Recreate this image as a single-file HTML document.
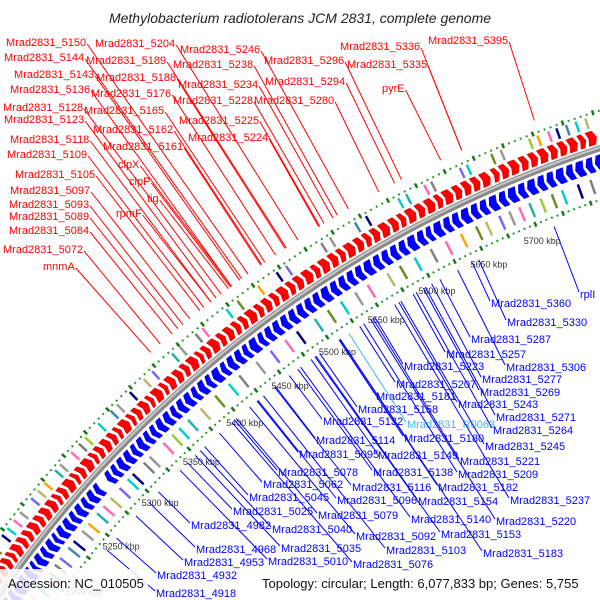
<!DOCTYPE html>
<html><head><meta charset="utf-8">
<style>
html,body{margin:0;padding:0;background:#fff;overflow:hidden;}
svg{display:block;font-family:"Liberation Sans",sans-serif;}
</style></head>
<body>
<svg id="chart" width="600" height="600" viewBox="0 0 600 600">
<text x="300" y="23" text-anchor="middle" font-size="14" font-style="italic" fill="#222">Methylobacterium radiotolerans JCM 2831, complete genome</text>
<g id="rings"></g>
<g id="labels"></g>
<rect x="0" y="569" width="148" height="31" fill="#fff" fill-opacity="0.85"/>
<text x="8" y="588" font-size="13" fill="#111">Accession: NC_010505</text>
<text x="262" y="588" font-size="13" fill="#111">Topology: circular; Length: 6,077,833 bp; Genes: 5,755</text>
</svg>
<script>
// ---- data ----
const tickKbp = [5200,5250,5300,5350,5400,5450,5500,5550,5600,5650,5700];
const fwdStart = [5150,5157,5163,5170,5178,5185,5191,5199,5206,5213,5221,5228,5236,5244,5250,5257,5266,5272,5279,5288,5294,5301,5309,5316,5322,5331,5337,5344,5352,5358,5367,5373,5381,5389,5396,5405,5411,5418,5427,5434,5442,5449,5456,5465,5472,5480,5487,5496,5503,5511,5520,5527,5536,5544,5551,5560,5568,5575,5583,5592,5600,5607,5616,5624,5633,5640,5649,5657,5665,5673,5683,5690,5698,5707,5715,5723,5732,5740,5748,5757,5764];
const fwdLen   = [6,5,6,7,6,5,7,6,6,7,6,7,7,5,6,8,5,6,8,5,6,7,6,5,8,5,6,7,5,8,5,7,7,6,8,5,6,8,6,7,6,6,8,6,7,6,8,6,7,8,6,8,7,6,8,7,6,7,8,7,6,8,7,8,6,8,7,7,7,8,6,7,8,7,7,8,7,7,8,6,8];
const revStart = [5152,5159,5166,5174,5181,5189,5195,5203,5210,5218,5224,5232,5240,5247,5255,5262,5270,5284,5291,5298,5306,5314,5321,5329,5336,5343,5351,5359,5366,5374,5382,5389,5397,5404,5413,5420,5428,5436,5443,5452,5459,5467,5475,5483,5491,5499,5507,5515,5524,5532,5540,5548,5556,5565,5573,5581,5589,5597,5606,5614,5621,5630,5638,5646,5655,5663,5671,5680,5688,5697,5705,5714,5722,5730,5739,5747,5756,5764];
const revLen   = [6,6,7,6,7,5,7,6,7,5,7,7,6,7,6,7,6,6,6,7,7,6,7,6,6,7,7,6,7,7,6,7,6,8,6,7,7,6,8,6,7,7,7,7,7,7,7,8,7,7,7,7,8,7,7,7,7,8,7,6,8,7,7,8,7,7,8,7,8,7,8,7,7,8,7,8,7,8];
const outerFeat = [5158,5163,5171,5176,5184,5196,5203,5211,5219,5233,5241,5249,5262,5268,5281,5290,5297,5312,5326,5333,5347,5362,5371,5392,5400,5416,5423,5447,5458,5478,5496,5505,5538,5546,5569,5579,5608,5615,5631,5637,5662,5668,5689,5697,5721,5728,5737,5744,5752,5760,5768];
const outerCol  = [0,1,3,9,4,5,1,2,3,0,6,7,8,3,2,9,10,1,11,3,5,6,0,8,3,9,2,1,4,7,5,0,9,3,11,5,1,8,2,9,0,1,4,3,10,7,2,5,11,1,6];
const innerFeat = [5155,5162,5170,5179,5188,5195,5203,5210,5221,5228,5239,5247,5258,5266,5275,5286,5296,5302,5315,5322,5338,5348,5356,5366,5380,5396,5411,5422,5440,5455,5470,5482,5500,5513,5526,5540,5552,5571,5583,5597,5612,5626,5640,5654,5663,5675,5684,5693,5702,5712,5722,5731,5745,5756,5766];
const innerCol  = [1,3,7,8,2,4,9,0,11,5,3,7,8,2,6,0,1,5,9,3,2,10,1,8,6,4,1,9,3,0,2,5,8,4,1,3,2,6,4,1,9,2,7,4,6,0,3,2,8,10,4,1,5,9,3];
// [label, gene position kbp, label x, label baseline y]
const redLabels = [
 ["Mrad2831_5150",5477,6,46],["Mrad2831_5144",5471,4,61],["Mrad2831_5143",5469,14,78],["Mrad2831_5136",5461,10,93],
 ["Mrad2831_5128",5451,3,111],["Mrad2831_5123",5446,4,123],["Mrad2831_5118",5441,10,143],["Mrad2831_5109",5434,7,158],
 ["Mrad2831_5105",5430,15,178],["Mrad2831_5097",5420,10,194],["Mrad2831_5093",5413,9,208],["Mrad2831_5089",5408,9,220],
 ["Mrad2831_5084",5402,9,234],["Mrad2831_5072",5390,3,253],["mnmA",5380,43,270],
 ["Mrad2831_5204",5524,95,47],["Mrad2831_5189",5513,86,64],["Mrad2831_5188",5512,96,81],["Mrad2831_5176",5503,91,97],
 ["Mrad2831_5165",5493,84,114],["Mrad2831_5162",5490,93,133],["Mrad2831_5161",5489,103,150],["clpX",5461,118,168],
 ["clpP",5460,129,185],["tig",5458,147,202],["rpmF",5441,116,217],
 ["Mrad2831_5246",5570,180,53],["Mrad2831_5238",5560,173,68],["Mrad2831_5234",5556,178,88],["Mrad2831_5228",5548,173,104],
 ["Mrad2831_5225",5544,179,124],["Mrad2831_5224",5543,188,141],["Mrad2831_5296",5617,264,64],["Mrad2831_5294",5611,265,85],
 ["Mrad2831_5280",5597,254,104],["Mrad2831_5336",5669,340,50],["Mrad2831_5335",5669,347,68],["pyrE",5651,382,92],["Mrad2831_5395",5730,428,44]
];
const blueLabels = [
 ["Mrad2831_5360",5638,491,307],["Mrad2831_5330",5644,507,326],["rplI",5714,580,298],["Mrad2831_5287",5607,471,343],
 ["Mrad2831_5257",5581,446,358],["Mrad2831_5306",5624,506,371],["Mrad2831_5223",5543,404,370],["Mrad2831_5277",5599,482,383],
 ["Mrad2831_5207",5528,396,388],["Mrad2831_5181",5507,376,400],["Mrad2831_5269",5591,480,396],["Mrad2831_5243",5567,458,408],
 ["Mrad2831_5158",5487,358,413],["Mrad2831_5271",5593,496,421],["Mrad2831_5132",5455,323,425],["Mrad2831_R0063",5517,407,428],
 ["Mrad2831_5264",5584,493,434],["Mrad2831_5114",5440,316,444],["Mrad2831_5180",5507,404,442],["Mrad2831_5245",5569,485,450],
 ["Mrad2831_5095",5420,299,458],["Mrad2831_5149",5478,378,459],["Mrad2831_5221",5541,460,465],["Mrad2831_5078",5395,278,476],
 ["Mrad2831_5138",5464,373,476],["Mrad2831_5209",5532,458,478],["Mrad2831_5062",5378,263,488],["Mrad2831_5116",5439,352,491],
 ["Mrad2831_5182",5508,438,491],["Mrad2831_5045",5361,249,501],["Mrad2831_5096",5421,337,504],["Mrad2831_5154",5483,418,505],
 ["Mrad2831_5237",5563,510,504],["Mrad2831_4982",5306,191,529],["Mrad2831_5025",5341,233,515],["Mrad2831_5079",5397,318,519],
 ["Mrad2831_5140",5467,411,523],["Mrad2831_5220",5539,496,525],["Mrad2831_5040",5356,272,533],["Mrad2831_5092",5412,356,540],
 ["Mrad2831_5153",5482,441,538],["Mrad2831_4968",5294,196,553],["Mrad2831_5035",5350,281,552],["Mrad2831_5103",5427,386,554],
 ["Mrad2831_5183",5508,483,557],["Mrad2831_4953",5278,184,566],["Mrad2831_5010",5332,268,565],["Mrad2831_5076",5392,353,568],
 ["Mrad2831_4932",5253,157,579],["Mrad2831_4918",5240,156,597]
];
const palette = ['#7b68ee','#00ced1','#ff69b4','#999999','#6b8e23','#000080','#bdb76b','#ffa500','#20b2aa','#808080','#9acd32','#4682b4'];

// ---- geometry ----
const CX = 966, CY = 1268, R = 1178;
function ang(kbp){ return (-142.52 + (kbp-5200)*0.0602) * Math.PI/180; }
function pt(kbp, r){ const a = ang(kbp); return [CX + r*Math.cos(a), CY + r*Math.sin(a)]; }
const NS = 'http://www.w3.org/2000/svg';
const rings = document.getElementById('rings');
const labels = document.getElementById('labels');
function mk(tag, attrs, parent){ const e = document.createElementNS(NS, tag); for (const k in attrs) e.setAttribute(k, attrs[k]); parent.appendChild(e); return e; }
function arcPath(k1, k2, r){
  const p1 = pt(k1, r), p2 = pt(k2, r);
  return `M${p1[0].toFixed(1)},${p1[1].toFixed(1)} A${r},${r} 0 0 1 ${p2[0].toFixed(1)},${p2[1].toFixed(1)}`;
}
function arrow(s, e, r1, r2, dir){
  const head = Math.min(2.5, (e-s)*0.5);
  const rm = (r1+r2)/2;
  let pts;
  if (dir > 0) pts = [pt(s,r1), pt(e-head,r1), pt(e,rm), pt(e-head,r2), pt(s,r2), pt(s+head*0.6,rm)];
  else pts = [pt(e,r1), pt(s+head,r1), pt(s,rm), pt(s+head,r2), pt(e,r2), pt(e-head*0.6,rm)];
  return pts.map(p => p[0].toFixed(1)+','+p[1].toFixed(1)).join(' ');
}

// backbone
let bb = mk('path', {d: arcPath(5140, 5800, R), stroke:'#8a8a8a', 'stroke-width':6, fill:'none'}, rings);


let bbh = mk('path', {d: arcPath(5140, 5800, R+1), stroke:'#c8c8c8', 'stroke-width':2, fill:'none'}, rings);



// dot rings
for (let k = 5150; k <= 5800; k += 5) {
  const big = (k % 25 === 0);
  [R+36, R-49].forEach(r => {
    const p1 = pt(k, r - (big?2.5:1)), p2 = pt(k, r + (big?2.5:1));
    const d = mk('line', {x1:p1[0], y1:p1[1], x2:p2[0], y2:p2[1], stroke: big?'#1a7a1a':'#2a9a2a', 'stroke-width': big?2.5:2}, rings);
    
    
  });
}

// feature bars
outerFeat.forEach((k, i) => {
  const p1 = pt(k, R+22), p2 = pt(k, R+33);
  const b = mk('line', {x1:p1[0], y1:p1[1], x2:p2[0], y2:p2[1], stroke: palette[outerCol[i]], 'stroke-width': 2.5}, rings);
  
  
});
innerFeat.forEach((k, i) => {
  const p1 = pt(k, R-42), p2 = pt(k, R-27);
  const b = mk('line', {x1:p1[0], y1:p1[1], x2:p2[0], y2:p2[1], stroke: palette[innerCol[i]], 'stroke-width': 2.5}, rings);
  
  
});

// CDS arrows
fwdStart.forEach((s, i) => {
  const a = mk('polygon', {points: arrow(s, s+fwdLen[i], R+5, R+19, 1), fill:'#f00', stroke:'#c00', 'stroke-width':0.5}, rings);
  
  
});
revStart.forEach((s, i) => {
  const a = mk('polygon', {points: arrow(s, s+revLen[i], R-21, R-6, -1), fill:'#00f', stroke:'#00c', 'stroke-width':0.5}, rings);
  
  
});

// tick labels
tickKbp.forEach(k => {
  const p = pt(k, R-67);
  const t = mk('text', {x:p[0].toFixed(1), y:(p[1]+3).toFixed(1), 'text-anchor':'middle', 'font-size':9, fill:'#333'}, rings);
  t.textContent = k + ' kbp';
  
  
});

// labels
redLabels.forEach(l => {
  const t = mk('text', {x:l[2], y:l[3], 'font-size':11, fill:'#f00'}, labels);
  t.textContent = l[0];
  
  
  const w = t.getComputedTextLength ? t.getComputedTextLength() : l[0].length*6.1;
  const p = pt(l[1], R+48);
  const ln = mk('line', {x1:l[2]+w+1, y1:l[3]-2, x2:p[0].toFixed(1), y2:p[1].toFixed(1), stroke:'#f00', 'stroke-width':1}, labels);
  
  
});
blueLabels.forEach(l => {
  const cyan = l[0].indexOf('R0063') >= 0;
  const col = cyan ? '#3cb8e8' : '#00f';
  const p = pt(l[1], R-58);
  const ln = mk('line', {x1:p[0].toFixed(1), y1:p[1].toFixed(1), x2:l[2]-1, y2:l[3]-6, stroke:col, 'stroke-width':1}, labels);
  
  
  const t = mk('text', {x:l[2], y:l[3], 'font-size':11, fill:col}, labels);
  t.textContent = l[0];
  
  
});
</script>
</body></html>
